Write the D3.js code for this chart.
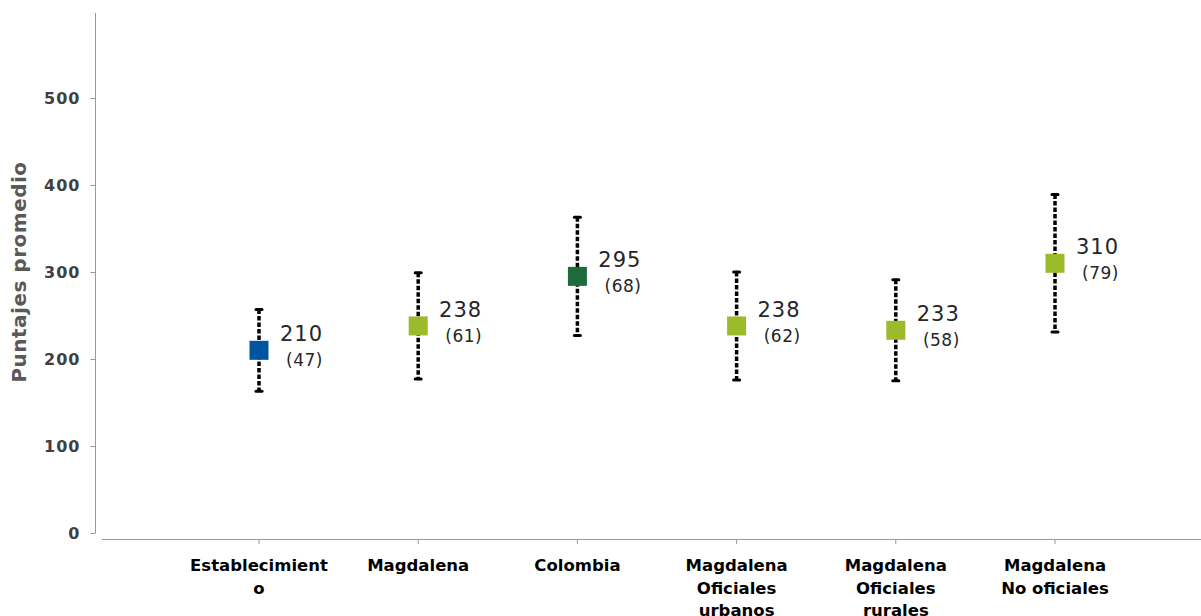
<!DOCTYPE html>
<html>
<head>
<meta charset="utf-8">
<script src="https://cdn.jsdelivr.net/npm/d3@7"></script>
<style>
  body { margin: 0; background: #fff; }
  text { font-family: "DejaVu Sans", Verdana, sans-serif; }
</style>
</head>
<body>
<svg id="chart" width="1201" height="616"></svg>
<script>
// data
const categories = [
  ["Establecimient", "o"],
  ["Magdalena"],
  ["Colombia"],
  ["Magdalena", "Oficiales", "urbanos"],
  ["Magdalena", "Oficiales", "rurales"],
  ["Magdalena", "No oficiales"]
];
const means = [210, 238, 295, 238, 233, 310];
const deviations = [47, 61, 68, 62, 58, 79];
const colors = ["#00559e", "#9cbb2b", "#1f6a3a", "#9cbb2b", "#9cbb2b", "#9cbb2b"];
const yTicks = [0, 100, 200, 300, 400, 500];

const svg = d3.select("#chart");

const y = d3.scaleLinear().domain([0, 600]).range([533, 11]);
const x = d3.scalePoint().domain(d3.range(categories.length)).range([259, 1055]);

// y axis
const yAxis = d3.axisLeft(y).tickValues(yTicks).tickSize(5).tickPadding(10);
const gy = svg.append("g").attr("transform", "translate(95.5,0)").call(yAxis);
gy.select(".domain").attr("stroke", "#999").attr("d", "M0," + y(0) + "V13");
gy.selectAll(".tick line").attr("stroke", "#999");
gy.selectAll(".tick text")
  .attr("fill", "#404040")
  .style("font-size", "16px")
  .style("font-weight", "bold")
  .style("letter-spacing", "1px");

svg.append("text")
  .attr("transform", "translate(26,272) rotate(-90)")
  .attr("text-anchor", "middle")
  .attr("fill", "#595959")
  .style("font-size", "20px")
  .style("font-weight", "bold")
  .style("letter-spacing", "0.5px")
  .text("Puntajes promedio");

// x axis line
svg.append("line")
  .attr("x1", 102).attr("x2", 1201)
  .attr("y1", 539.5).attr("y2", 539.5)
  .attr("stroke", "#999");

const cat = svg.append("g").selectAll("g")
  .data(categories)
  .join("g")
  .attr("transform", (d, i) => "translate(" + x(i) + ",0)");

cat.append("line")
  .attr("y1", 539.5).attr("y2", 544)
  .attr("stroke", "#999");

cat.append("text")
  .attr("text-anchor", "middle")
  .attr("fill", "#000")
  .style("font-size", "16.5px")
  .style("font-weight", "bold")
  .selectAll("tspan")
  .data(d => d)
  .join("tspan")
  .attr("x", 0)
  .attr("y", (d, i) => 571 + i * 22.5)
  .text(d => d);

// error bars
const bars = svg.append("g").selectAll("g")
  .data(means)
  .join("g")
  .attr("transform", (d, i) => "translate(" + x(i) + ",0)");

bars.append("line")
  .attr("y1", (d, i) => y(d + deviations[i]))
  .attr("y2", (d, i) => y(d - deviations[i]))
  .attr("stroke", "#000")
  .attr("stroke-width", 3.5)
  .attr("stroke-dasharray", "4.5,2");

[1, -1].forEach(s => {
  bars.append("line")
    .attr("x1", -3).attr("x2", 3)
    .attr("y1", (d, i) => y(d + s * deviations[i]))
    .attr("y2", (d, i) => y(d + s * deviations[i]))
    .attr("stroke", "#000")
    .attr("stroke-width", 3)
    .attr("stroke-linecap", "round");
});

bars.append("rect")
  .attr("x", -9.5).attr("width", 19)
  .attr("y", d => y(d) - 9.5).attr("height", 19)
  .attr("fill", (d, i) => colors[i]);

bars.append("text")
  .attr("x", 64)
  .attr("y", d => y(d) - 9)
  .attr("text-anchor", "end")
  .attr("fill", "#262626")
  .style("font-size", "21px")
  .style("letter-spacing", "1px")
  .text(d => d);

bars.append("text")
  .attr("x", 64)
  .attr("y", d => y(d) + 16)
  .attr("text-anchor", "end")
  .attr("fill", "#262626")
  .style("font-size", "17px")
  .style("letter-spacing", "0.5px")
  .text((d, i) => "(" + deviations[i] + ")");
</script>
</body>
</html>
